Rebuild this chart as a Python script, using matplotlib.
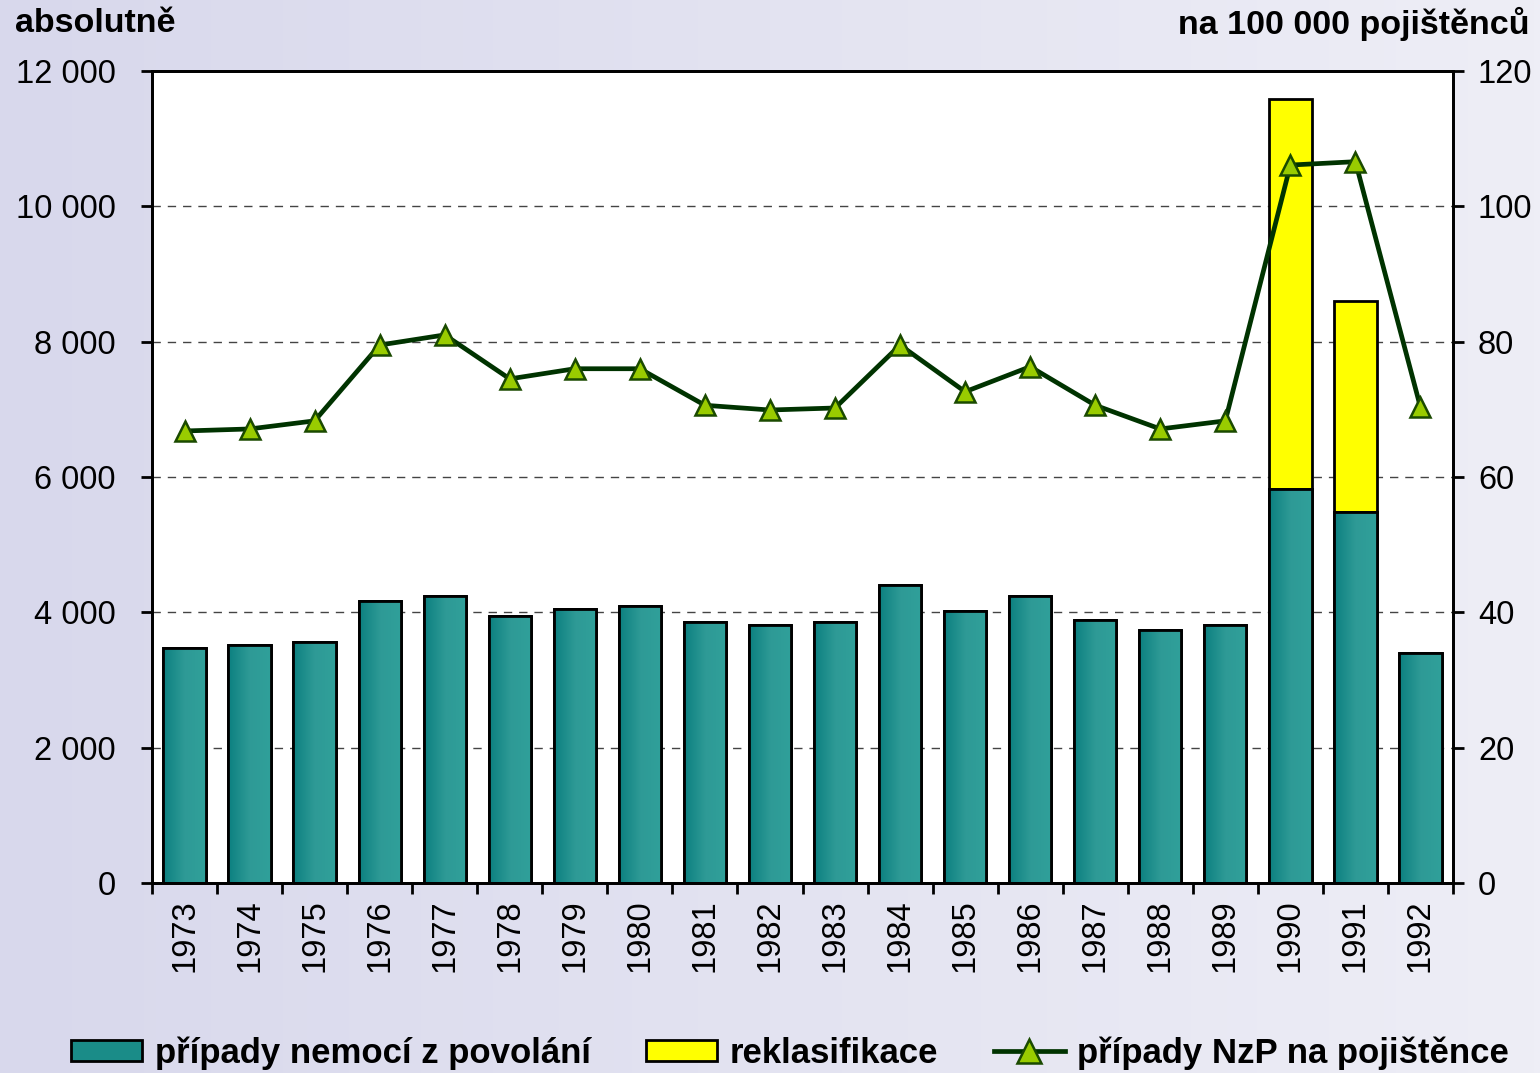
import numpy as np
import matplotlib
matplotlib.use("Agg")
import matplotlib.pyplot as plt
from matplotlib.patches import Patch
from matplotlib.lines import Line2D
from matplotlib.colors import LinearSegmentedColormap

plt.rcParams['font.family'] = ['Liberation Sans', 'DejaVu Sans']

years = ['1973', '1974', '1975', '1976', '1977', '1978', '1979', '1980', '1981', '1982',
         '1983', '1984', '1985', '1986', '1987', '1988', '1989', '1990', '1991', '1992']
cases = [3470, 3520, 3560, 4170, 4240, 3950, 4050, 4090, 3860, 3810,
         3860, 4400, 4020, 4240, 3890, 3740, 3810, 5830, 5480, 3400]
reclass = [0, 0, 0, 0, 0, 0, 0, 0, 0, 0,
           0, 0, 0, 0, 0, 0, 0, 5750, 3120, 0]
rate = [66.8, 67.1, 68.3, 79.5, 81.0, 74.5, 76.0, 76.0, 70.6, 69.9,
        70.2, 79.5, 72.6, 76.3, 70.6, 67.1, 68.3, 106.1, 106.6, 70.3]

left_ticks = [0, 2000, 4000, 6000, 8000, 10000, 12000]
left_labels = ['0', '2 000', '4 000', '6 000', '8 000', '10 000', '12 000']
right_ticks = [0, 20, 40, 60, 80, 100, 120]

W, H = 1540, 1073
fig = plt.figure(figsize=(W / 100, H / 100), dpi=100)

# background gradient
bg = fig.add_axes([0, 0, 1, 1], zorder=-10)
bg_cmap = LinearSegmentedColormap.from_list('bg', ['#d8d8ec', '#eeeef6'])
bg.imshow(np.linspace(0, 1, 256)[None, :], cmap=bg_cmap, aspect='auto', extent=[0, 1, 0, 1])
bg.set_axis_off()

x0, x1 = 152, 1453
y0, y1 = 71, 883
ax = fig.add_axes([x0 / W, 1 - y1 / H, (x1 - x0) / W, (y1 - y0) / H])
ax.set_facecolor('white')

x = np.arange(len(years))
bw = 0.65
ew = 2.0
bars = ax.bar(x, cases, width=bw, color='#1a8c88', edgecolor='black', linewidth=ew, zorder=2)
rb = ax.bar(x, reclass, bottom=cases, width=bw, color='#ffff00', edgecolor='black', linewidth=ew, zorder=2)

teal_cmap = LinearSegmentedColormap.from_list('teal', ['#0c8080', '#2e9a96', '#30a09a'])
for b in bars:
    xx, yy = b.get_x(), b.get_y()
    im = ax.imshow(np.linspace(0, 1, 64)[None, :], cmap=teal_cmap, aspect='auto',
                   extent=[xx, xx + b.get_width(), yy, yy + b.get_height()], zorder=2.1)
    im.set_clip_path(b)
    ax.add_patch(plt.Rectangle((xx, yy), b.get_width(), b.get_height(), fill=False,
                               edgecolor='black', linewidth=ew, zorder=2.2))

ax.set_xlim(-0.5, len(years) - 0.5)
ax.set_ylim(0, 12000)
ax.set_yticks(left_ticks)
ax.set_yticklabels(left_labels, fontsize=23.5)
ax.set_xticks(np.arange(len(years) + 1) - 0.5)
ax.set_xticklabels([])
ax.set_xticks(x, minor=True)
ax.set_xticklabels(years, minor=True, rotation=90, fontsize=23.5)
ax.tick_params(axis='x', which='minor', length=0, pad=12)
ax.tick_params(axis='x', which='major', length=8, width=2, direction='out')
ax.tick_params(axis='y', length=8, width=2, direction='out', pad=18)
ax.yaxis.grid(True, linestyle=(0, (6, 5)), color='#444444', linewidth=1.0)
ax.set_axisbelow(True)
for s in ax.spines.values():
    s.set_linewidth(2)
    s.set_color('black')

ax2 = ax.twinx()
ax2.set_ylim(0, 120)
ax2.set_yticks(right_ticks)
ax2.set_yticklabels([str(t) for t in right_ticks], fontsize=23.5)
ax2.tick_params(axis='y', length=8, width=2, direction='out', pad=10)
for s in ax2.spines.values():
    s.set_linewidth(2)
ax2.plot(x, rate, color='#003300', linewidth=3.4, marker='^', markersize=15,
         markerfacecolor='#99cc00', markeredgecolor='#1a4a00', markeredgewidth=1.8, zorder=5)

fig.text(15 / W, 1 - 24 / H, 'absolutně', fontsize=24.5, fontweight='bold', va='center', ha='left')
fig.text(1530 / W, 1 - 24 / H, 'na 100 000 pojištěnců', fontsize=24.5, fontweight='bold', va='center', ha='right')

handles = [Patch(facecolor='#1a8c88', edgecolor='black', linewidth=ew),
           Patch(facecolor='#ffff00', edgecolor='black', linewidth=ew),
           Line2D([], [], color='#003300', linewidth=3.4, marker='^', markersize=17,
                  markerfacecolor='#99cc00', markeredgecolor='#1a4a00', markeredgewidth=1.8)]
labels = ['případy nemocí z povolání', 'reklasifikace', 'případy NzP na pojištěnce']
fig.legend(handles, labels, loc='center', bbox_to_anchor=(790 / W, 1 - 1053 / H), ncol=3,
           frameon=False, prop={'size': 25, 'weight': 'bold'}, handlelength=2.05,
           handleheight=0.55, handletextpad=0.35, columnspacing=1.6)

fig.savefig('out.png', dpi=100)
